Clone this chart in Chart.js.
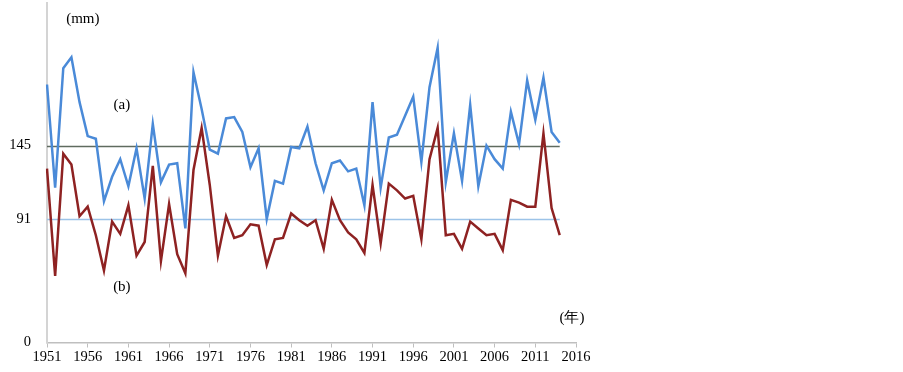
<!DOCTYPE html>
<html>
<head>
<meta charset="utf-8">
<script src="https://cdn.jsdelivr.net/npm/chart.js@4/dist/chart.umd.min.js"></script>
<style>
  html, body { margin: 0; padding: 0; background: #ffffff; }
  #chart { display: block; }
</style>
</head>
<body>
<canvas id="chart" width="903" height="372"></canvas>
<script>
// Anos do eixo X (1951 a 2016)
const years = [
  1951, 1952, 1953, 1954, 1955, 1956, 1957, 1958, 1959, 1960,
  1961, 1962, 1963, 1964, 1965, 1966, 1967, 1968, 1969, 1970,
  1971, 1972, 1973, 1974, 1975, 1976, 1977, 1978, 1979, 1980,
  1981, 1982, 1983, 1984, 1985, 1986, 1987, 1988, 1989, 1990,
  1991, 1992, 1993, 1994, 1995, 1996, 1997, 1998, 1999, 2000,
  2001, 2002, 2003, 2004, 2005, 2006, 2007, 2008, 2009, 2010,
  2011, 2012, 2013, 2014, 2015, 2016
];

// Série (a) - linha azul (1951-2014)
const seriesA = [
  190, 114, 202, 210, 177, 152, 150, 104, 122, 135,
  115, 143, 106, 161, 118, 131, 132, 84, 199, 172,
  142, 139, 165, 166, 155, 129, 143, 91, 119, 117,
  144, 143, 159, 132, 112, 132, 134, 126, 128, 101,
  177, 114, 151, 153, 167, 181, 133, 188, 217, 118,
  154, 119, 175, 115, 145, 135, 128, 170, 146, 193,
  164, 195, 155, 147
];

// Série (b) - linha vermelha escura (1951-2014)
const seriesB = [
  128, 49, 139, 131, 93, 100, 79, 53, 89, 80,
  101, 64, 74, 130, 60, 102, 65, 51, 127, 158,
  116, 64, 93, 77, 79, 87, 86, 57, 76, 77,
  95, 90, 86, 90, 69, 105, 90, 81, 76, 66,
  116, 73, 117, 112, 106, 108, 76, 135, 158, 79,
  80, 69, 89, 84, 79, 80, 68, 105, 103, 100,
  100, 154, 99, 79
];

// Linhas de referência e rótulos do eixo Y
const refLines = [145, 91];
const refColors = ['#5f6b5f', '#9cc3e8'];
const yTicks = [0, 91, 145];

// Desenha as linhas horizontais de referência
const refLinePlugin = {
  id: 'refLines',
  beforeDatasetsDraw(chart) {
    const ctx = chart.ctx;
    const x = chart.scales.x;
    const y = chart.scales.y;
    const x0 = x.getPixelForValue(0);
    const x1 = x.getPixelForValue(seriesA.length - 1);
    ctx.save();
    refLines.forEach((v, i) => {
      const py = Math.round(y.getPixelForValue(v)) + 0.5;
      ctx.strokeStyle = refColors[i];
      ctx.lineWidth = 1.5;
      ctx.beginPath();
      ctx.moveTo(x0, py);
      ctx.lineTo(x1, py);
      ctx.stroke();
    });
    ctx.restore();
  }
};

// Textos soltos: (mm), (a), (b), (年)
const textPlugin = {
  id: 'labels',
  afterDraw(chart) {
    const ctx = chart.ctx;
    const x = chart.scales.x;
    const y = chart.scales.y;
    ctx.save();
    ctx.fillStyle = '#000000';
    ctx.font = '15px "Liberation Serif", "DejaVu Serif", serif';
    ctx.textAlign = 'center';
    ctx.textBaseline = 'middle';
    ctx.fillText('(mm)', x.getPixelForValue(4.4), y.getPixelForValue(238));
    ctx.fillText('(a)', x.getPixelForValue(9.2), y.getPixelForValue(175));
    ctx.fillText('(b)', x.getPixelForValue(9.2), y.getPixelForValue(41));
    ctx.fillText('(年)', x.getPixelForValue(64.5), y.getPixelForValue(18));
    ctx.restore();
  }
};

const chart = new Chart(document.getElementById('chart').getContext('2d'), {
  type: 'line',
  data: {
    labels: years,
    datasets: [
      {
        label: '(a)',
        data: seriesA,
        borderColor: '#4a8ad8',
        borderWidth: 2.5,
        pointRadius: 0,
        tension: 0,
        fill: false
      },
      {
        label: '(b)',
        data: seriesB,
        borderColor: '#8e2222',
        borderWidth: 2.5,
        pointRadius: 0,
        tension: 0,
        fill: false
      }
    ]
  },
  options: {
    responsive: false,
    animation: false,
    layout: {
      padding: { top: 3, right: 327, bottom: 0, left: 0 }
    },
    plugins: {
      legend: { display: false },
      tooltip: { enabled: false }
    },
    scales: {
      x: {
        type: 'category',
        offset: false,
        afterFit(scale) { scale.height = 29.5; },
        grid: {
          drawOnChartArea: false,
          drawTicks: true,
          tickLength: 5,
          tickColor: (c) => (c.index % 5 === 0 ? '#bfbfbf' : 'rgba(0,0,0,0)')
        },
        border: { color: '#bfbfbf', width: 1.5 },
        ticks: {
          autoSkip: false,
          maxRotation: 0,
          padding: 1,
          color: '#000000',
          font: { family: '"Liberation Serif", serif', size: 14.5 },
          callback: function (value, index) {
            return index % 5 === 0 ? String(years[index]) : '';
          }
        }
      },
      y: {
        min: 0,
        max: 250,
        afterFit(scale) {
          scale.width = 47;
          scale.paddingTop = 0;
          scale.paddingBottom = 0;
        },
        afterBuildTicks(scale) {
          scale.ticks = yTicks.map(v => ({ value: v }));
        },
        grid: { display: false },
        border: { color: '#d4d4d4', width: 2 },
        ticks: {
          padding: 8,
          color: '#000000',
          font: { family: '"Liberation Serif", serif', size: 14.5 }
        }
      }
    }
  },
  plugins: [refLinePlugin, textPlugin]
});
</script>
</body>
</html>
